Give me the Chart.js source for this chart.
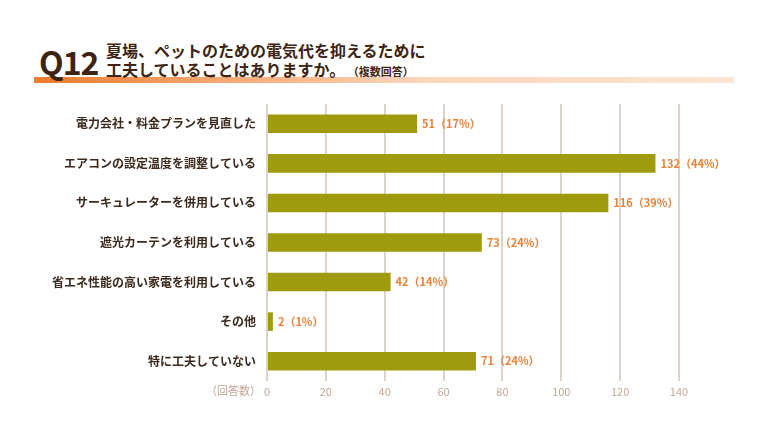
<!DOCTYPE html>
<html>
<head>
<meta charset="utf-8">
<script src="https://cdn.jsdelivr.net/npm/chart.js@4"></script>
<style>
    body { margin: 0; background: #ffffff; font-family: "Noto Sans CJK JP", sans-serif; }
    #wrap { position: relative; width: 768px; height: 432px; overflow: hidden; }
    #bar { position: absolute; left: 34px; top: 77px; width: 700px; height: 6px;
           background: linear-gradient(to right, #ee7a2c 0%, #f6a56e 25%, #fbd5bb 55%, #fde6d6 100%); }
    #q { position: absolute; left: 39px; top: 40px; font-size: 32px; font-weight: bold; color: #3d2412;
         letter-spacing: -1px; line-height: 42px; font-family: "Noto Sans CJK JP", sans-serif; }
    #t1, #t2 { position: absolute; left: 106px; font-size: 16px; font-weight: bold; color: #3d2412; line-height: 20px; }
    #t1 { top: 40px; }
    #t2 { top: 59px; }
    #t2 small { font-size: 11px; margin-left: 8px; }
    #chart { position: absolute; left: 0; top: 0; }
</style>
</head>
<body>
<div id="wrap">
    <div id="bar"></div>
    <div id="q">Q12</div>
    <div id="t1">夏場、ペットのための電気代を抑えるために</div>
    <div id="t2">工夫していることはありますか。<small>（複数回答）</small></div>
    <canvas id="chart" width="768" height="432"></canvas>
</div>
<script>
// answers (responses count) and their share
const categories = [
    "電力会社・料金プランを見直した",
    "エアコンの設定温度を調整している",
    "サーキュレーターを併用している",
    "遮光カーテンを利用している",
    "省エネ性能の高い家電を利用している",
    "その他",
    "特に工夫していない"
];
const counts = [51, 132, 116, 73, 42, 2, 71];
const percents = [17, 44, 39, 24, 14, 1, 24];
const xTicks = [0, 20, 40, 60, 80, 100, 120, 140];

// value labels at the end of each bar + the axis unit label
const labelPlugin = {
    id: "barLabels",
    afterDatasetsDraw(chart) {
        const ctx = chart.ctx;
        const meta = chart.getDatasetMeta(0);
        ctx.save();
        ctx.font = "bold 11px 'Noto Sans CJK JP'";
        ctx.fillStyle = "#ef7f35";
        ctx.textBaseline = "middle";
        ctx.textAlign = "left";
        meta.data.forEach((bar, i) => {
            ctx.fillText(counts[i] + "（" + percents[i] + "%）", bar.x + 5, bar.y);
        });
        // (回答数) next to 0
        ctx.font = "11px 'Noto Sans CJK JP'";
        ctx.fillStyle = "#c4a595";
        ctx.textAlign = "right";
        const xs = chart.scales.x;
        ctx.fillText("（回答数）", chart.chartArea.left - 6, xs.top + 10);
        ctx.restore();
    }
};

new Chart(document.querySelector("#chart"), {
    type: "bar",
    data: {
        labels: categories,
        datasets: [{
            data: counts,
            backgroundColor: "#a09b0d",
            barPercentage: 0.47,
            categoryPercentage: 1
        }]
    },
    options: {
        indexAxis: "y",
        responsive: false,
        animation: false,
        layout: { padding: { left: 0, right: 89, top: 104, bottom: 31 } },
        plugins: { legend: { display: false }, tooltip: { enabled: false } },
        scales: {
            x: {
                min: 0,
                max: 140,
                afterBuildTicks: (scale) => { scale.ticks = xTicks.map(v => ({ value: v })); },
                afterFit: (scale) => { scale.height = 20; },
                grid: { color: "#dcd3ca", lineWidth: 2, drawTicks: false },
                border: { display: false },
                ticks: { color: "#c4a595", padding: 4, font: { size: 11, family: "Noto Sans CJK JP" } }
            },
            y: {
                afterFit: (scale) => { scale.width = 267; },
                grid: { display: false, drawTicks: false },
                border: { display: false },
                ticks: { color: "#3d2a1e", padding: 11, font: { size: 12, weight: "bold", family: "Noto Sans CJK JP" } }
            }
        }
    },
    plugins: [labelPlugin]
});
</script>
</body>
</html>
